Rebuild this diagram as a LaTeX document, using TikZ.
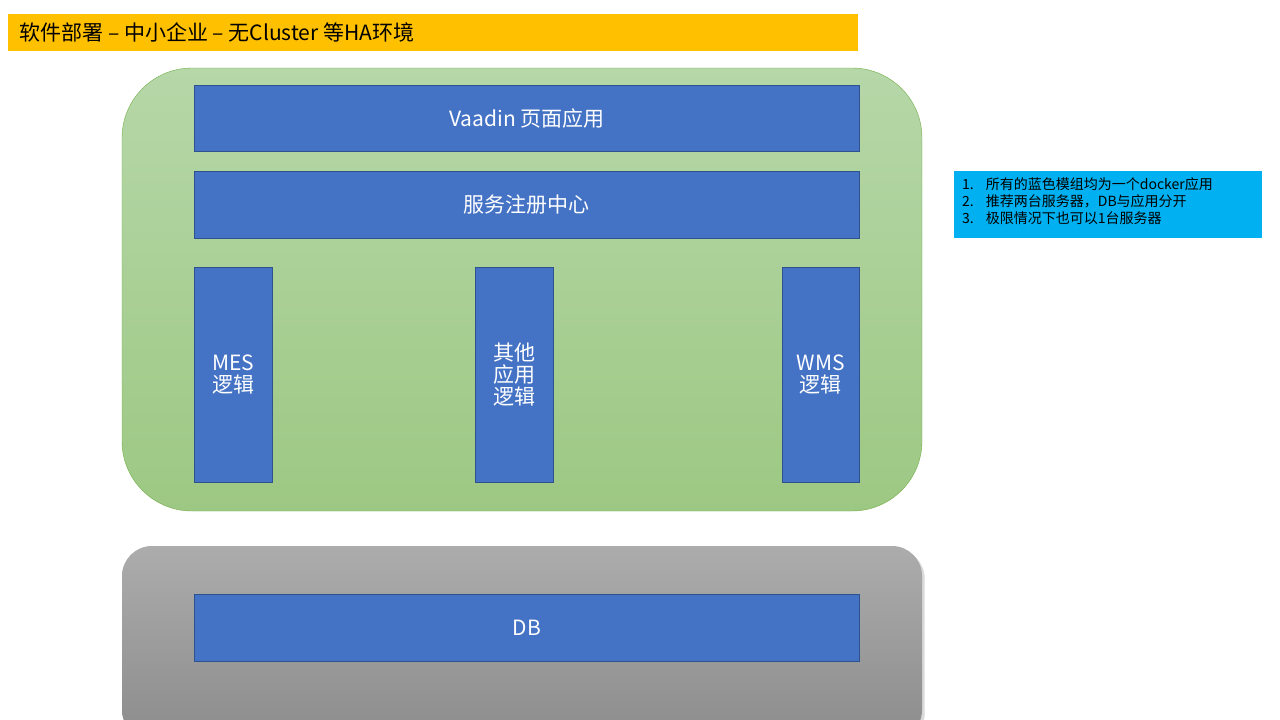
\documentclass[tikz,border=0pt]{standalone}
\usepackage{fontspec}
\setmainfont{Noto Sans CJK SC}
\usetikzlibrary{shadows}
\definecolor{blu}{HTML}{4472C4}
\definecolor{blub}{HTML}{2F528F}
\begin{document}
\begin{tikzpicture}[x=1pt,y=-1pt,
  blk/.style={draw=blub,fill=blu,text=white,font=\fontsize{21}{26}\selectfont,align=center,inner sep=0,line width=0.6pt}]
\useasboundingbox (0,0) rectangle (1280,720);
\node[fill={rgb,255:red,255;green,192;blue,0},minimum width=850pt,minimum height=37pt,anchor=north west,inner sep=0] (title) at (8,14) {};
\node[anchor=west,font=\fontsize{21}{26}\selectfont] (tt) at (16,32.5) {软件部署 – 中小企业 – 无Cluster 等HA环境};
\shade[top color={rgb,255:red,182;green,215;blue,168},bottom color={rgb,255:red,157;green,200;blue,131},draw={rgb,255:red,112;green,173;blue,71},rounded corners=70pt] (122,68) rectangle (922,511);
\begin{scope}
\clip (0,0) rectangle (1280,720);
\shade[top color={rgb,255:red,172;green,172;blue,172},bottom color={rgb,255:red,140;green,140;blue,140},rounded corners=30pt,drop shadow={opacity=0.3}] (122,546) rectangle (922,740);
\end{scope}
\node[blk,minimum width=665pt,minimum height=66pt,anchor=north west] (vaadin) at (194,85) {Vaadin 页面应用};
\node[blk,minimum width=665pt,minimum height=67pt,anchor=north west] (reg) at (194,171) {服务注册中心};
\node[blk,minimum width=78pt,minimum height=215pt,anchor=north west] (mes) at (194,267) {MES\\[-4pt]逻辑};
\node[blk,minimum width=78pt,minimum height=215pt,anchor=north west] (oth) at (475,267) {其他\\[-4pt]应用\\[-4pt]逻辑};
\node[blk,minimum width=77pt,minimum height=215pt,anchor=north west] (wms) at (782,267) {WMS\\[-4pt]逻辑};
\node[blk,minimum width=665pt,minimum height=67pt,anchor=north west] (db) at (194,594) {DB};
\node[fill={rgb,255:red,0;green,176;blue,240},minimum width=308pt,minimum height=67pt,anchor=north west,inner sep=0] (note) at (954,171) {};
\node[anchor=north west,align=left,font=\fontsize{14}{17}\selectfont,inner sep=0] (nt) at (962,177) {1.\hspace{12pt}所有的蓝色模组均为一个docker应用\\2.\hspace{12pt}推荐两台服务器，DB与应用分开\\3.\hspace{12pt}极限情况下也可以1台服务器};
\end{tikzpicture}
\end{document}
